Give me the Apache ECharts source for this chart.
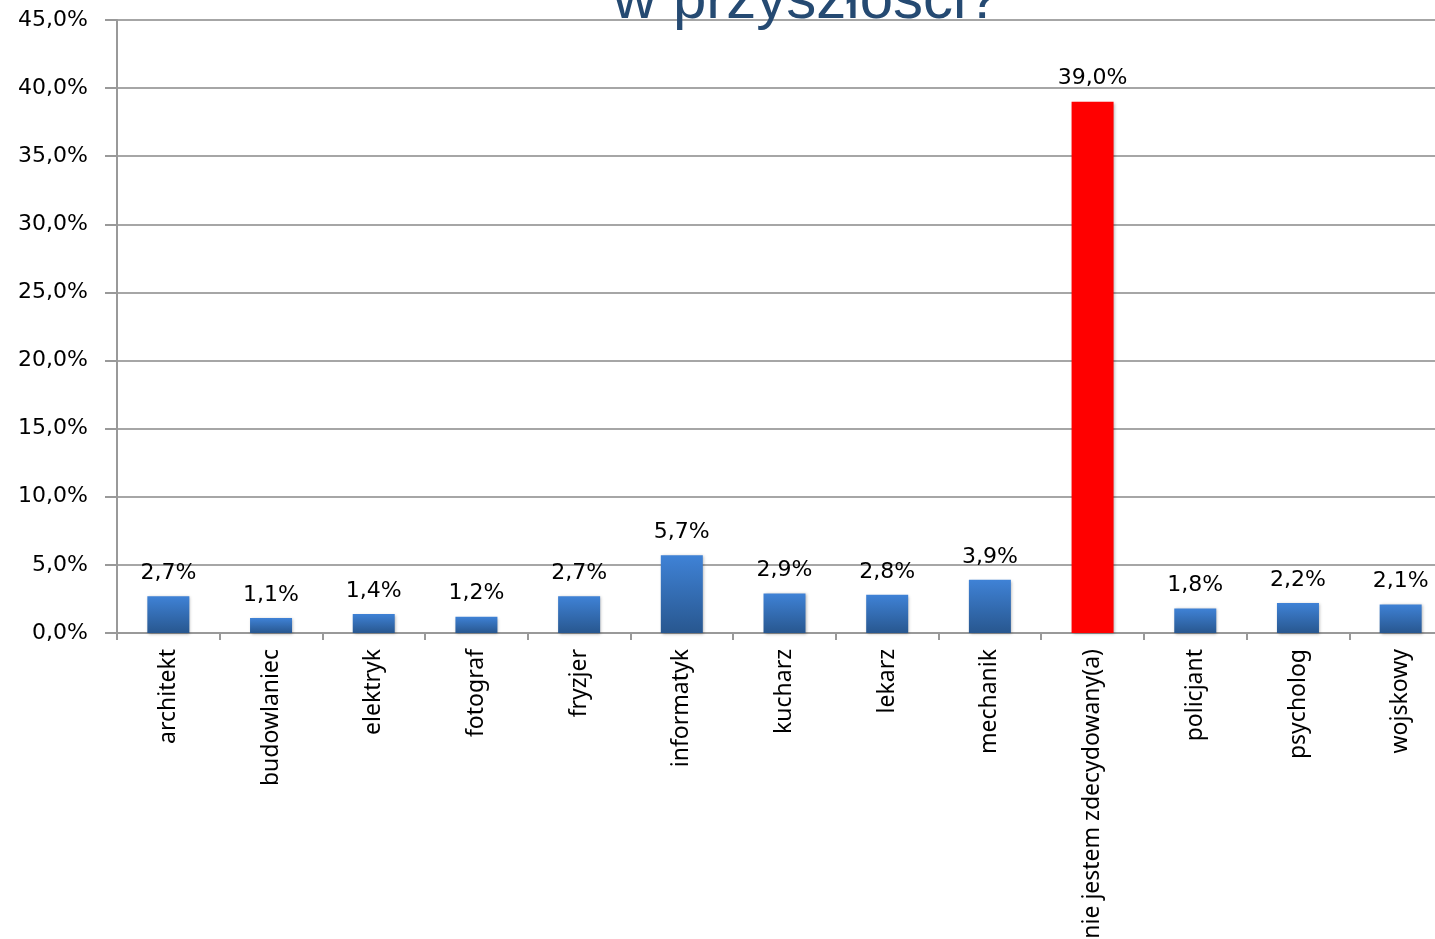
<!DOCTYPE html>
<html>
<head>
<meta charset="utf-8">
<script src="https://cdn.jsdelivr.net/npm/echarts@6/dist/echarts.min.js"></script>
<style>
  html, body { margin: 0; padding: 0; background: #fff; }
  #chart { width: 1435px; height: 939px; }
</style>
</head>
<body>
<div id="chart"></div>
<script>
var categories = ['architekt', 'budowlaniec', 'elektryk', 'fotograf', 'fryzjer', 'informatyk', 'kucharz', 'lekarz', 'mechanik', 'nie jestem zdecydowany(a)', 'policjant', 'psycholog', 'wojskowy'];
var values = [2.7, 1.1, 1.4, 1.2, 2.7, 5.7, 2.9, 2.8, 3.9, 39.0, 1.8, 2.2, 2.1];
var highlight = 'nie jestem zdecydowany(a)';
var titleText = 'w przyszłości?';

function pct(v) {
	return Number(v).toFixed(1).replace('.', ',') + '%';
}

var blue = new echarts.graphic.LinearGradient(0, 0, 0, 1, [
	{ offset: 0, color: '#3f82d6' },
	{ offset: 1, color: '#28578f' }
]);

var barData = values.map(function(v, i) {
	return {
		value: v,
		itemStyle: { color: categories[i] === highlight ? '#ff0000' : blue }
	};
});

var option = {
	animation: false,
	title: {
		text: titleText,
		left: 608,
		top: -34,
		textStyle: { fontFamily: 'Liberation Sans', fontSize: 60, fontWeight: 'normal', color: '#254a72' }
	},
	grid: { left: 117, right: -17, top: 20, bottom: 306, containLabel: false, outerBoundsMode: 'none' },
	xAxis: {
		type: 'category',
		data: categories,
		axisLine: { lineStyle: { color: '#999', width: 2 } },
		axisTick: { show: true, length: 7, lineStyle: { color: '#999', width: 2 } },
		axisLabel: {
			rotate: 90,
			interval: 0,
			margin: 16,
			fontFamily: 'Noto Sans',
			fontSize: 23,
			color: '#000'
		}
	},
	yAxis: {
		type: 'value',
		min: 0,
		max: 45,
		interval: 5,
		axisLine: { show: true, lineStyle: { color: '#999', width: 2 } },
		axisTick: { show: true, length: 12, lineStyle: { color: '#999', width: 2 } },
		splitLine: { lineStyle: { color: '#a6a6a6', width: 2 } },
		axisLabel: {
			formatter: pct,
			margin: 29,
			fontFamily: 'DejaVu Sans',
			fontSize: 22,
			color: '#000'
		}
	},
	series: [{
		type: 'bar',
		data: barData,
		barWidth: 42,
		itemStyle: {
			shadowBlur: 3,
			shadowColor: 'rgba(0,0,0,0.3)',
			shadowOffsetX: 1,
			shadowOffsetY: 1
		},
		label: {
			show: true,
			position: 'top',
			distance: 12,
			formatter: function(p) { return pct(p.value); },
			fontFamily: 'DejaVu Sans',
			fontSize: 22,
			color: '#000'
		}
	}]
};

var chart = echarts.init(document.getElementById('chart'));
chart.setOption(option);
</script>
</body>
</html>
